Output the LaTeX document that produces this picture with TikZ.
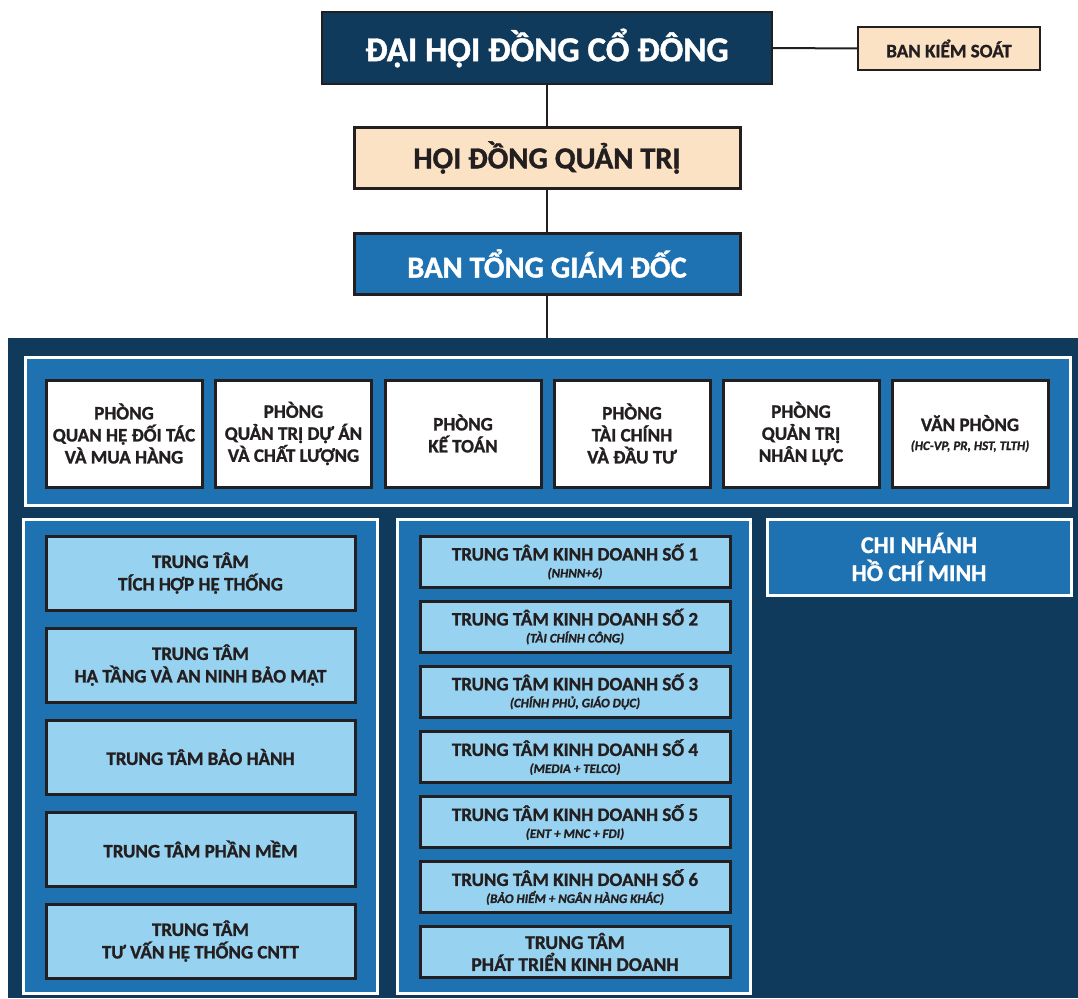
\documentclass[tikz,border=0pt]{standalone}
\usepackage{fontspec}
\setmainfont{Carlito}[BoldFeatures={FakeBold=1.2},BoldItalicFeatures={FakeBold=1.2}]
\definecolor{navy}{HTML}{0F3A5B}
\definecolor{midblue}{HTML}{1F72B2}
\definecolor{lightblue}{HTML}{97D2F0}
\definecolor{peach}{HTML}{FCE2C4}
\definecolor{bord}{HTML}{231F20}
\newcommand{\subtxt}{\bfseries\itshape\fontsize{13}{14}\selectfont}
\begin{document}
\begin{tikzpicture}[x=1pt,y=-1pt,
  box/.style={draw=bord, line width=3pt, align=center, inner sep=0pt, font=\bfseries, text=bord},
  grp/.style={draw=white, line width=3pt, fill=midblue, inner sep=0pt},
  dept/.style={box, fill=white, minimum width=156pt, minimum height=107pt, font=\bfseries\fontsize{19}{22}\selectfont},
  lbox/.style={box, fill=lightblue, minimum width=309pt, minimum height=74pt, font=\bfseries\fontsize{19}{22.5}\selectfont},
  mbox/.style={box, fill=lightblue, minimum width=310pt, minimum height=51pt, font=\bfseries\fontsize{19}{21}\selectfont},
  link/.style={draw=bord, line width=2pt}
]
\useasboundingbox (0,0) rectangle (1078,998);
\fill[white] (0,0) rectangle (1078,998);
% big background
\node[fill=navy, inner sep=0pt, minimum width=1070pt, minimum height=660pt] (bg) at (543,668) {};
\coordinate (bgtop) at (547,338);
% top hierarchy
\node[box, fill=navy, line width=2pt, text=white, minimum width=450pt, minimum height=72pt, font=\bfseries\fontsize{35}{38}\selectfont] (dhdcd) at (547,48) {ĐẠI HỘI ĐỒNG CỔ ĐÔNG};
\node[box, fill=peach, line width=2pt, minimum width=182pt, minimum height=43pt, font=\bfseries\fontsize{19}{20}\selectfont] (bks) at (949,48.5) {BAN KIỂM SOÁT};
\node[box, fill=peach, minimum width=386pt, minimum height=61pt, font=\bfseries\fontsize{30.5}{34}\selectfont] (hdqt) at (547,157.5) {HỘI ĐỒNG QUẢN TRỊ};
\node[box, fill=midblue, text=white, minimum width=386pt, minimum height=61pt, font=\bfseries\fontsize{30.5}{34}\selectfont] (btgd) at (547,263.5) {BAN TỔNG GIÁM ĐỐC};
\draw[link] (dhdcd.east) -- (bks.west);
\draw[link] (dhdcd.south) -- (hdqt.north);
\draw[link] (hdqt.south) -- (btgd.north);
\draw[link] (btgd.south) -- (bgtop);
% department row
\node[grp, minimum width=1045pt, minimum height=148pt] (deptgrp) at (547.5,431) {};
\node[dept] (d1) at (124,433.5) {PHÒNG\\QUAN HỆ ĐỐI TÁC\\VÀ MUA HÀNG};
\node[dept] (d2) at (293.5,433.5) {PHÒNG\\QUẢN TRỊ DỰ ÁN\\VÀ CHẤT LƯỢNG};
\node[dept] (d3) at (463,433.5) {PHÒNG\\KẾ TOÁN};
\node[dept] (d4) at (632,433.5) {PHÒNG\\TÀI CHÍNH\\VÀ ĐẦU TƯ};
\node[dept] (d5) at (801,433.5) {PHÒNG\\QUẢN TRỊ\\NHÂN LỰC};
\node[dept] (d6) at (970,433.5) {VĂN PHÒNG\\[-3pt]{\subtxt (HC-VP, PR, HST, TLTH)}};
% left group
\node[grp, minimum width=354pt, minimum height=474pt] (leftgrp) at (200.5,756) {};
\node[lbox] (l1) at (200.5,573) {TRUNG TÂM\\TÍCH HỢP HỆ THỐNG};
\node[lbox] (l2) at (200.5,665) {TRUNG TÂM\\HẠ TẦNG VÀ AN NINH BẢO MẬT};
\node[lbox] (l3) at (200.5,757) {TRUNG TÂM BẢO HÀNH};
\node[lbox] (l4) at (200.5,849) {TRUNG TÂM PHẦN MỀM};
\node[lbox] (l5) at (200.5,941) {TRUNG TÂM\\TƯ VẤN HỆ THỐNG CNTT};
% middle group
\node[grp, minimum width=353pt, minimum height=474pt] (midgrp) at (574,756) {};
\node[mbox] (m1) at (575,561.5) {TRUNG TÂM KINH DOANH SỐ 1\\[-4pt]{\subtxt (NHNN+6)}};
\node[mbox] (m2) at (575,626.5) {TRUNG TÂM KINH DOANH SỐ 2\\[-4pt]{\subtxt (TÀI CHÍNH CÔNG)}};
\node[mbox] (m3) at (575,691.5) {TRUNG TÂM KINH DOANH SỐ 3\\[-4pt]{\subtxt (CHÍNH PHỦ, GIÁO DỤC)}};
\node[mbox] (m4) at (575,757) {TRUNG TÂM KINH DOANH SỐ 4\\[-4pt]{\subtxt (MEDIA + TELCO)}};
\node[mbox] (m5) at (575,822) {TRUNG TÂM KINH DOANH SỐ 5\\[-4pt]{\subtxt (ENT + MNC + FDI)}};
\node[mbox] (m6) at (575,887) {TRUNG TÂM KINH DOANH SỐ 6\\[-4pt]{\subtxt (BẢO HIỂM + NGÂN HÀNG KHÁC)}};
\node[mbox, font=\bfseries\fontsize{19.5}{22}\selectfont] (m7) at (575,952) {TRUNG TÂM\\PHÁT TRIỂN KINH DOANH};
% branch
\node[grp, align=center, text=white, minimum width=304pt, minimum height=76pt, font=\bfseries\fontsize{24}{28}\selectfont] (hcm) at (919,557) {CHI NHÁNH\\HỒ CHÍ MINH};
\end{tikzpicture}
\end{document}
